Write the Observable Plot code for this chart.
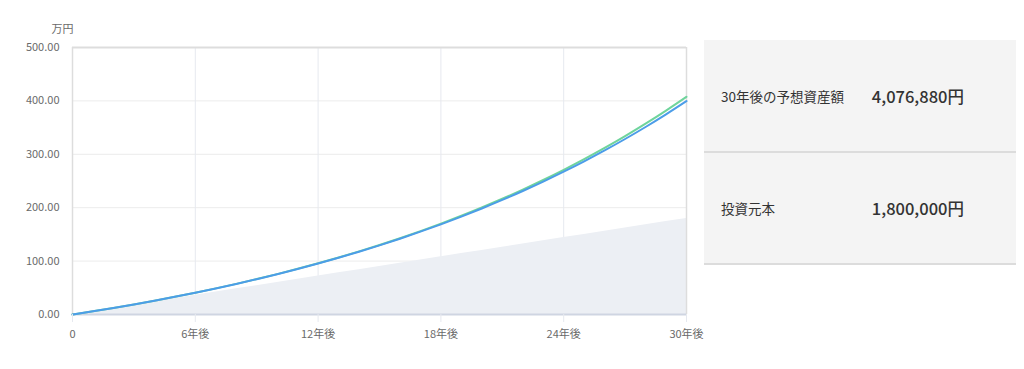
<!DOCTYPE html>
<html><head><meta charset="utf-8">
<script src="https://cdn.jsdelivr.net/npm/d3@7"></script>
<script src="https://cdn.jsdelivr.net/npm/@observablehq/plot@0.6"></script>
<style>
body{margin:0;background:#fff;font-family:"Noto Sans CJK JP","Noto Sans",sans-serif;}
#wrap{position:relative;width:1024px;height:369px;}
#chart{position:absolute;left:0;top:0;}
#panel{position:absolute;left:704px;top:40px;width:312px;background:#f4f4f4;}
.row{position:relative;height:112px;border-bottom:2px solid #dcdcdc;box-sizing:border-box;}
.row:first-child{height:113px;}
.lab{position:absolute;left:17px;top:50%;transform:translateY(-50%);font-size:13.5px;color:#333;}
.val{position:absolute;right:52px;top:50%;transform:translateY(-50%);font-size:16.5px;font-weight:500;color:#333;}
</style></head><body>
<div id="wrap"><div id="chart"></div>
<div id="panel"></div></div>
<script>
const years = [0,1,2,3,4,5,6,7,8,9,10,11,12,13,14,15,16,17,18,19,20,21,22,23,24,25,26,27,28,29,30];
const principal = [0,6,12,18,24,30,36,42,48,54,60,66,72,78,84,90,96,102,108,114,120,126,132,138,144,150,156,162,168,174,180];
const expected = [0,6.00,12.30,18.92,25.87,33.17,40.85,48.91,57.39,66.30,75.66,85.50,95.85,106.73,118.18,130.21,142.87,156.18,170.18,184.91,200.41,216.71,233.86,251.91,270.91,290.90,311.93,334.07,357.37,381.90,407.69];
const simulated = [0,6.00,12.30,18.92,25.86,33.15,40.81,48.85,57.30,66.16,75.47,85.24,95.51,106.29,117.61,129.50,141.99,155.10,168.88,183.35,198.55,214.52,231.30,248.91,267.40,286.82,307.22,328.65,351.15,374.77,399.60];
const xTicks = [0,6,12,18,24,30];
const yTicks = [0,100,200,300,400,500];
const yUnit = "万円";
const summaryLabels = ["30年後の予想資産額","投資元本"];
const summaryValues = ["4,076,880円","1,800,000円"];

const data = years.map((y,i)=>({year:y, principal:principal[i], expected:expected[i], simulated:simulated[i]}));

const chart = Plot.plot({
  width:710, height:350,
  marginLeft:72, marginRight:24, marginTop:47, marginBottom:36,
  x:{domain:[0,30]},
  y:{domain:[0,500]},
  style:{fontFamily:'"Noto Sans CJK JP","Noto Sans",sans-serif', fontSize:"11px", color:"#6a6a6a", background:"#fff", overflow:"visible"},
  marks:[
    Plot.gridY(yTicks,{stroke:"#ececec", strokeOpacity:1}),
    Plot.gridX(xTicks,{stroke:"#e6e9ef", strokeOpacity:1}),
    Plot.areaY(data,{x:"year", y:"principal", fill:"#eceff4", curve:"linear"}),
    Plot.ruleX([0,30],{stroke:"#dddddd", strokeWidth:1.5}),
    Plot.ruleY([500],{stroke:"#dddddd", strokeWidth:2}),
    Plot.ruleY([0],{stroke:"#cfd5e2", strokeWidth:2}),
    Plot.lineY(data,{x:"year", y:"expected", stroke:"#6fd49c", strokeWidth:2, curve:"monotone-x"}),
    Plot.lineY(data,{x:"year", y:"simulated", stroke:"#4c9de8", strokeWidth:2, curve:"monotone-x"}),
    Plot.axisY(yTicks,{tickFormat:d3.format(".2f"), tickSize:0, tickPadding:13, label:null}),
    Plot.text([yUnit],{frameAnchor:"top-left", dx:-10, dy:-22, textAnchor:"middle", fill:"#6a6a6a", fontSize:11}),
    Plot.axisX(xTicks,{tickFormat:d=> d===0?"0":d+"年後", tickSize:8, tickPadding:8, stroke:"#e6e9ef", label:null})
  ]
});
document.getElementById("chart").appendChild(chart);

const panel = document.getElementById("panel");
summaryLabels.forEach((l,i)=>{
  const r = document.createElement("div"); r.className="row";
  const a = document.createElement("div"); a.className="lab"; a.textContent=l;
  const b = document.createElement("div"); b.className="val"; b.textContent=summaryValues[i];
  r.appendChild(a); r.appendChild(b); panel.appendChild(r);
});
</script></body></html>
